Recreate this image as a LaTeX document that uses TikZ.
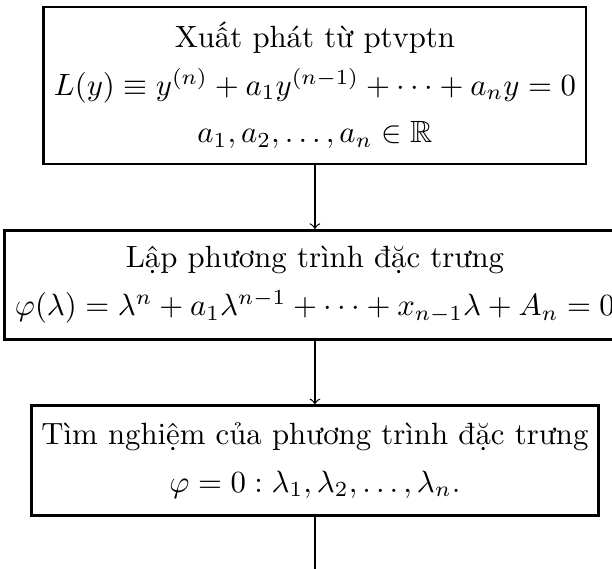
\documentclass[tikz,border=0pt]{standalone}
\usepackage{fontspec}
\usepackage{amsmath,amssymb}
\usetikzlibrary{positioning}

\begin{document}
\begin{tikzpicture}[>=to,node distance=20.7pt,
    khoi/.style={draw,line width=0.9pt,align=center,inner sep=3.3pt}]
  \useasboundingbox (-102.4pt,27.8pt) rectangle (96.6pt,-157.2pt);
  \node[khoi,minimum height=51pt] (start) at (0,0) {Xuất phát từ ptvptn\\[3.5pt]
    $L(y)\equiv y^{(n)}+a_1y^{(n-1)}+\cdots+a_ny=0$\\[3.5pt]
    $a_1,a_2,\ldots,a_n\in\mathbb{R}$};
  \node[khoi,minimum height=35.4pt,below=of start] (chareq) {Lập phương trình đặc trưng\\[3.5pt]
    $\varphi(\lambda)=\lambda^n+a_1\lambda^{n-1}+\cdots+x_{n-1}\lambda+A_n=0$};
  \node[khoi,minimum height=35.7pt,below=of chareq] (roots) {Tìm nghiệm của phương trình đặc trưng\\[3.5pt]
    $\varphi=0:\lambda_1,\lambda_2,\ldots,\lambda_n.$};
  \coordinate[below=19.2pt of roots] (next);
  \draw[->,line width=0.4pt] (start) -- (chareq);
  \draw[->,line width=0.4pt] (chareq) -- (roots);
  \draw[->,line width=0.4pt] (roots) -- (next);
\end{tikzpicture}
\end{document}
